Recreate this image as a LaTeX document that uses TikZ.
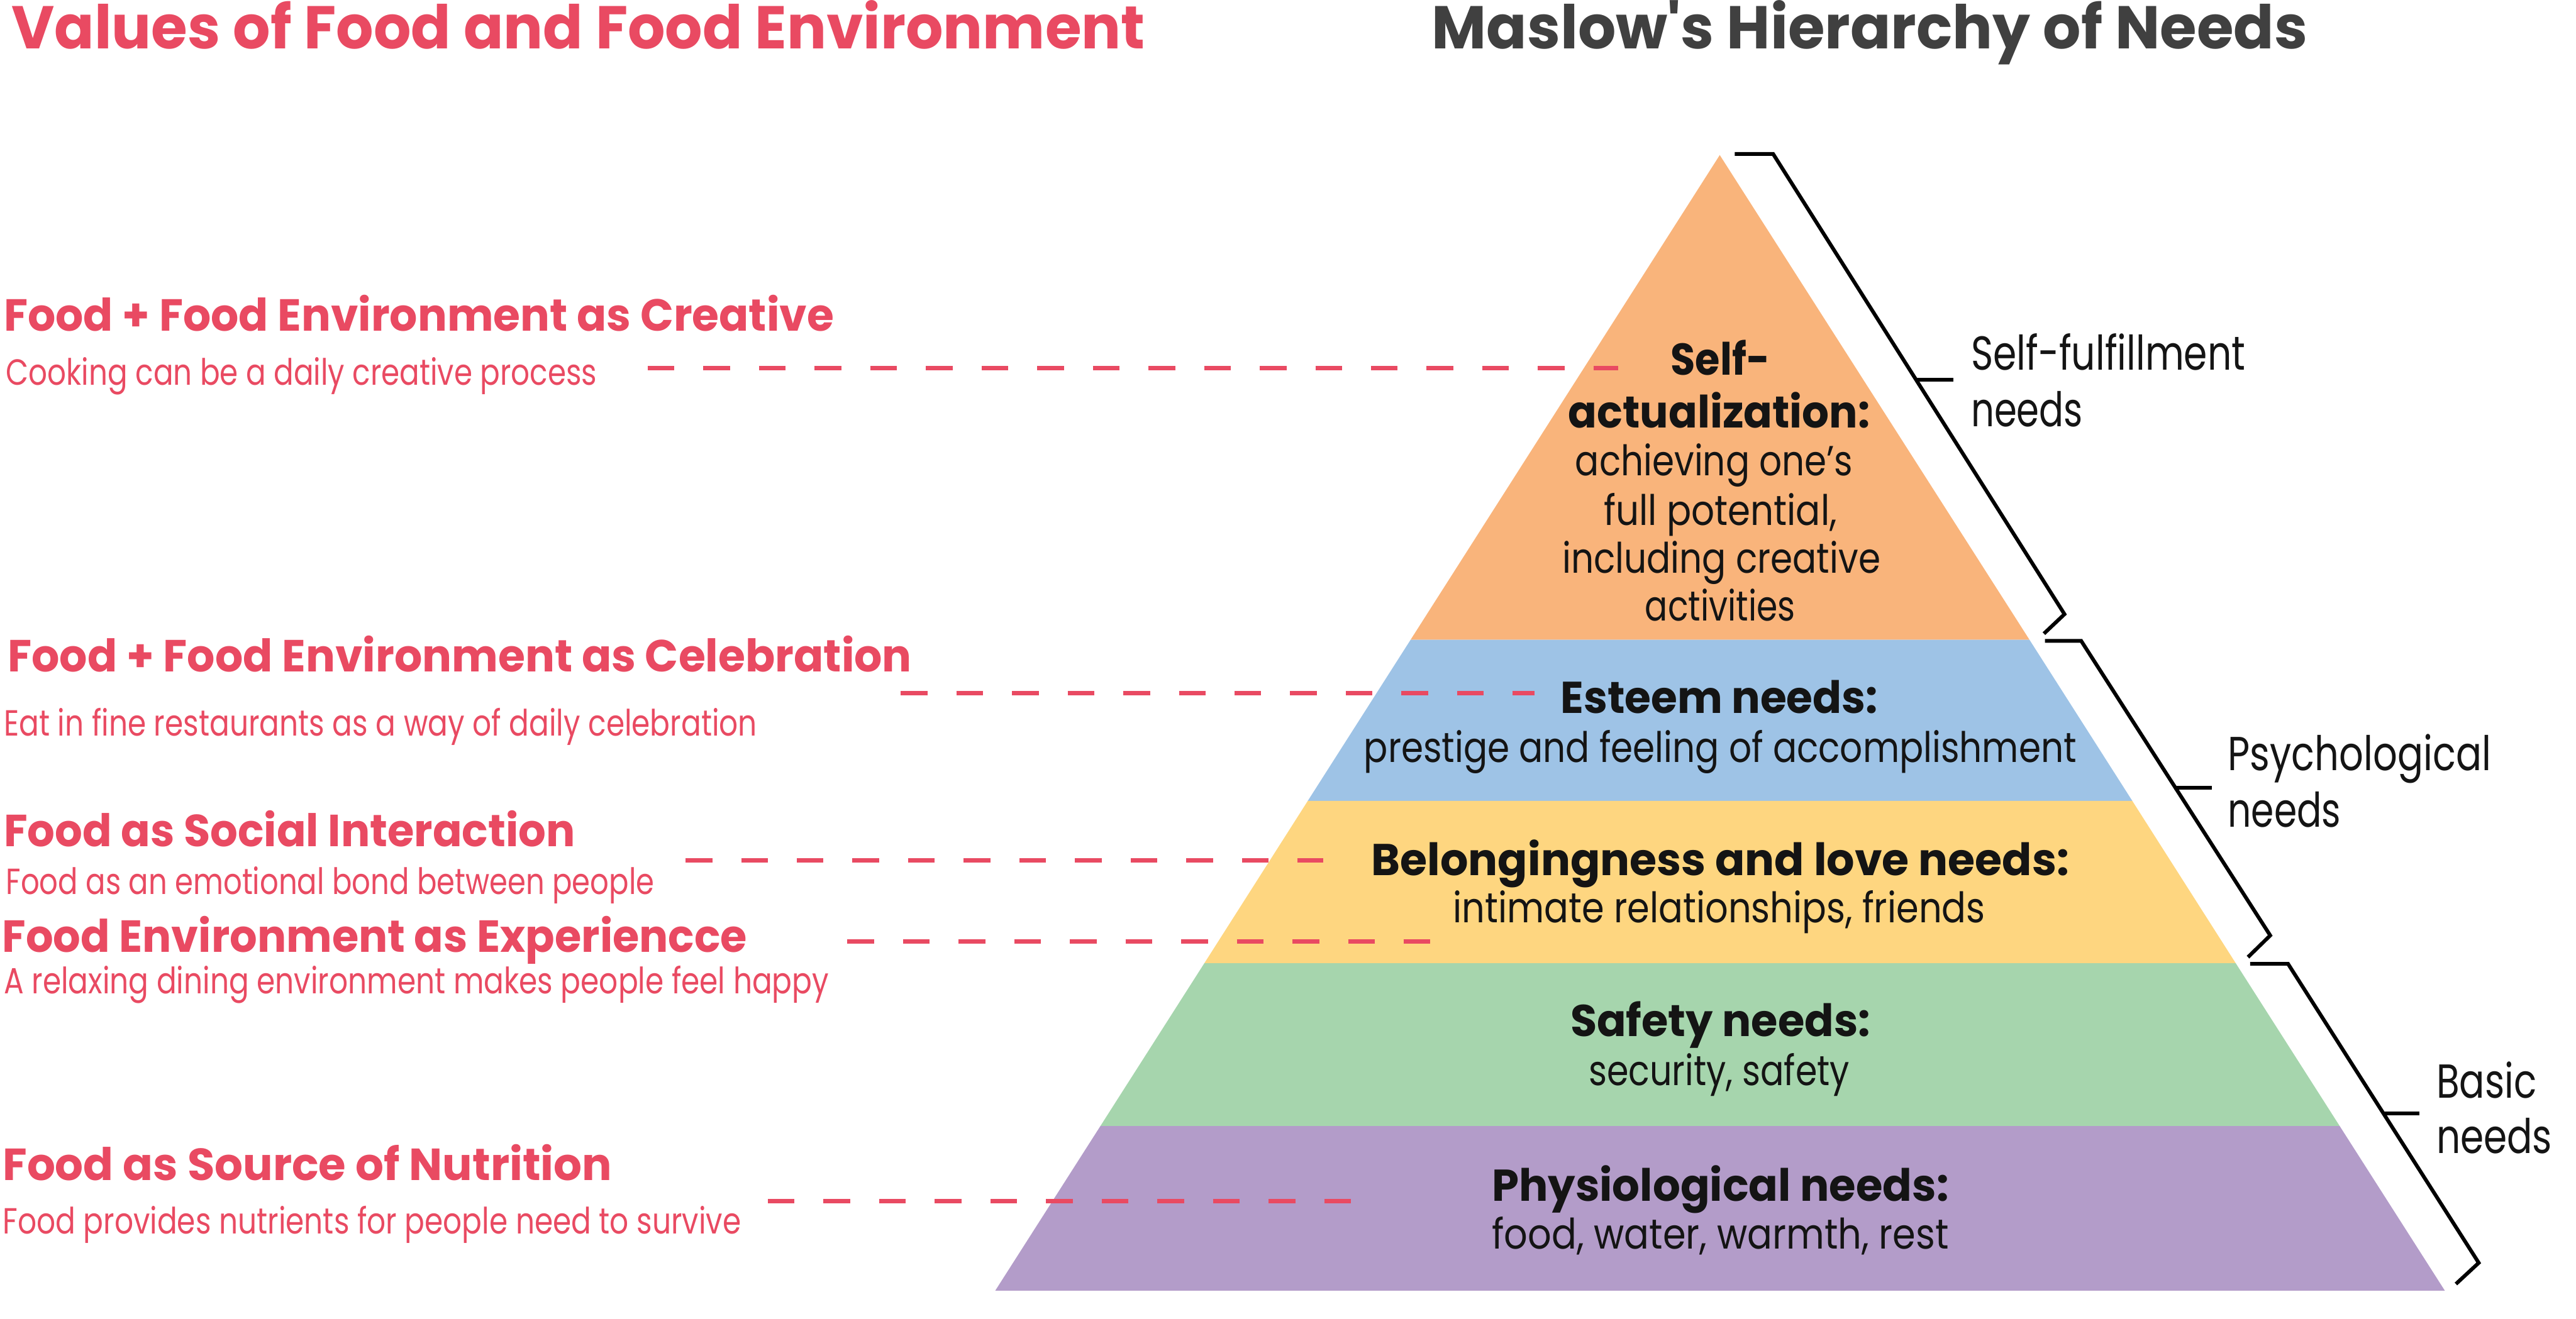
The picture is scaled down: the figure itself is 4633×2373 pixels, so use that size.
\documentclass[tikz,border=0pt]{standalone}
\usepackage{fontspec}
\setmainfont{Poppins}
\newfontfamily\plainpop{Poppins}
\usepackage{graphicx}
\definecolor{fred}{RGB}{233,74,98}
\definecolor{tgray}{RGB}{64,64,64}
\definecolor{lorange}{RGB}{249,180,123}
\definecolor{lblue}{RGB}{158,195,230}
\definecolor{lyellow}{RGB}{254,214,128}
\definecolor{lgreen}{RGB}{166,213,173}
\definecolor{lpurple}{RGB}{179,156,201}
\definecolor{pblack}{RGB}{20,20,20}
\newcommand\fw[2]{\resizebox{#1}{\height}{#2}}
\tikzset{
  txt/.style={inner sep=0pt, outer sep=0pt},
  ttl/.style={txt, anchor=base west, font=\fontsize{30.9}{36}\selectfont\bfseries},
  headtxt/.style={txt, anchor=base west, text=fred, font=\fontsize{23}{28}\selectfont\bfseries},
  subtxt/.style={txt, anchor=base west, text=fred, font=\fontsize{18.6}{22}\selectfont},
  pyrb/.style={txt, anchor=base, text=pblack, font=\fontsize{22.8}{27}\selectfont\bfseries},
  pyr/.style={txt, anchor=base, text=pblack, font=\fontsize{21.5}{26}\selectfont},
  side/.style={txt, anchor=base west, text=pblack, font=\fontsize{24.4}{29}\selectfont},
  link/.style={draw=fred, line width=2.1pt, dash pattern=on 0.48cm off 0.52cm},
  brk/.style={draw=black, line width=1.9pt, line join=miter},
}
\begin{document}
\begin{tikzpicture}[x=0.01cm, y=-0.01cm]
\useasboundingbox (0,0) rectangle (4633,2373);

% pyramid corner coordinates
\coordinate (apex) at (3093,279);
\coordinate (l1) at (2537,1151); \coordinate (r1) at (3650,1151);
\coordinate (l2) at (2352,1441); \coordinate (r2) at (3835,1441);
\coordinate (l3) at (2166,1733); \coordinate (r3) at (4021,1733);
\coordinate (l4) at (1979,2026); \coordinate (r4) at (4208,2026);
\coordinate (l5) at (1790,2322); \coordinate (r5) at (4397,2322);

\fill[lorange] (apex) -- (r1) -- (l1) -- cycle;
\fill[lblue] (l1) -- (r1) -- (r2) -- (l2) -- cycle;
\fill[lyellow] (l2) -- (r2) -- (r3) -- (l3) -- cycle;
\fill[lgreen] (l3) -- (r3) -- (r4) -- (l4) -- cycle;
\fill[lpurple] (l4) -- (r4) -- (r5) -- (l5) -- cycle;

% titles
\node[ttl, text=fred] (ttlA) at (21,88) {\fw{20.37cm}{Values of Food and Food Environment}};
\node[ttl, text=tgray] (ttlB) at (2575,88) {\fw{15.74cm}{Maslow{\plainpop\bfseries'}s Hierarchy of Needs}};

% left texts
\node[headtxt] (h1) at (7,596) {\fw{14.92cm}{Food + Food Environment as Creative}};
\node[subtxt] (s1) at (11,693) {\fw{10.62cm}{Cooking can be a daily creative process}};
\node[headtxt] (h2) at (14,1209) {\fw{16.25cm}{Food + Food Environment as Celebration}};
\node[subtxt] (s2) at (7,1324) {\fw{13.54cm}{Eat in fine restaurants as a way of daily celebration}};
\node[headtxt] (h3) at (7,1523) {\fw{10.27cm}{Food as Social Interaction}};
\node[subtxt] (s3) at (11,1609) {\fw{11.65cm}{Food as an emotional bond between people}};
\node[headtxt] (h4) at (4,1713) {\fw{13.39cm}{Food Environment as Experiencce}};
\node[subtxt] (s4) at (7,1788) {\fw{14.83cm}{A relaxing dining environment makes people feel happy}};
\node[headtxt] (h5) at (5,2124) {\fw{10.95cm}{Food as Source of Nutrition}};
\node[subtxt] (s5) at (5,2220) {\fw{13.27cm}{Food provides nutrients for people need to survive}};

% pyramid texts
\node[pyrb] (p1a) at (3094,675) {\fw{1.78cm}{Self-}};
\node[pyrb] (p1b) at (3092,770) {\fw{5.42cm}{actualization:}};
\node[pyr] (p1c) at (3083,856) {\fw{4.99cm}{achieving one’s}};
\node[pyr] (p1d) at (3094,945) {\fw{4.19cm}{full potential,}};
\node[pyr] (p1e) at (3096,1031) {\fw{5.72cm}{including creative}};
\node[pyr] (p1f) at (3094,1117) {\fw{2.70cm}{activities}};
\node[pyrb] (p2a) at (3092,1283) {\fw{5.70cm}{Esteem needs:}};
\node[pyr] (p2b) at (3094,1372) {\fw{12.81cm}{prestige and feeling of accomplishment}};
\node[pyrb] (p3a) at (3094,1575) {\fw{12.54cm}{Belongingness and love needs:}};
\node[pyr] (p3b) at (3092,1660) {\fw{9.56cm}{intimate relationships, friends}};
\node[pyrb] (p4a) at (3094,1865) {\fw{5.39cm}{Safety needs:}};
\node[pyr] (p4b) at (3092,1953) {\fw{4.69cm}{security, safety}};
\node[pyrb] (p5a) at (3094,2161) {\fw{8.21cm}{Physiological needs:}};
\node[pyr] (p5b) at (3094,2247) {\fw{8.21cm}{food, water, warmth, rest}};

% side labels
\node[side] (r1a) at (3545,666) {\fw{4.93cm}{Self-fulfillment}};
\node[side] (r1b) at (3545,767) {\fw{2.01cm}{needs}};
\node[side] (r2a) at (4007,1386) {\fw{4.73cm}{Psychological}};
\node[side] (r2b) at (4007,1488) {\fw{2.03cm}{needs}};
\node[side] (r3a) at (4382,1975) {\fw{1.80cm}{Basic}};
\node[side] (r3b) at (4382,2075) {\fw{2.08cm}{needs}};

% brackets
\coordinate (b1t) at (3120,277); \coordinate (b1a) at (3189,277);
\coordinate (b1k) at (3713,1105); \coordinate (b1e) at (3676,1140);
\coordinate (b1m) at (3444,683); \coordinate (b1n) at (3513,683);
\draw[brk] (b1t) -- (b1a) -- (b1k) -- (b1e);
\draw[brk] (b1m) -- (b1n);
\coordinate (b2t) at (3678,1153); \coordinate (b2a) at (3743,1153);
\coordinate (b2k) at (4083,1683); \coordinate (b2e) at (4043,1722);
\coordinate (b2m) at (3910,1417); \coordinate (b2n) at (3978,1417);
\draw[brk] (b2t) -- (b2a) -- (b2k) -- (b2e);
\draw[brk] (b2m) -- (b2n);
\coordinate (b3t) at (4047,1734); \coordinate (b3a) at (4115,1734);
\coordinate (b3k) at (4458,2272); \coordinate (b3e) at (4417,2310);
\coordinate (b3m) at (4284,2003); \coordinate (b3n) at (4351,2003);
\draw[brk] (b3t) -- (b3a) -- (b3k) -- (b3e);
\draw[brk] (b3m) -- (b3n);

% dashed links
\coordinate (d1s) at (1165,662); \coordinate (d1e) at (2910,662);
\coordinate (d2s) at (1620,1247); \coordinate (d2e) at (2760,1247);
\coordinate (d3s) at (1233,1548); \coordinate (d3e) at (2380,1548);
\coordinate (d4s) at (1524,1694); \coordinate (d4e) at (2572,1694);
\coordinate (d5s) at (1381,2161); \coordinate (d5e) at (2430,2161);
\draw[link] (d1s) -- (d1e);
\draw[link] (d2s) -- (d2e);
\draw[link] (d3s) -- (d3e);
\draw[link] (d4s) -- (d4e);
\draw[link] (d5s) -- (d5e);
\end{tikzpicture}
\end{document}
